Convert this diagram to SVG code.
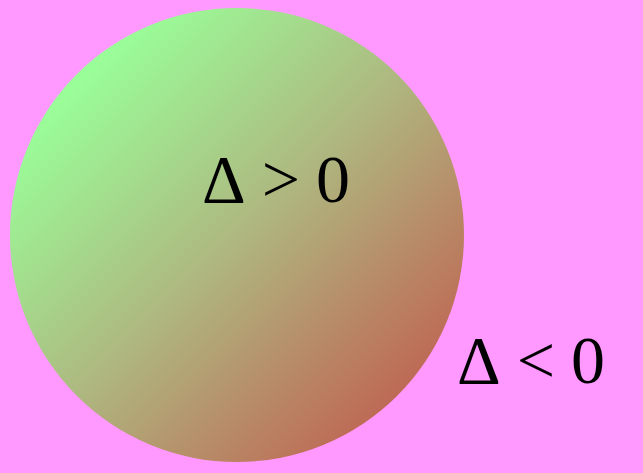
<svg xmlns="http://www.w3.org/2000/svg" width="643" height="473" viewBox="0 0 643 473">
<style>
.lbl{font-family:"Liberation Serif","Times New Roman",serif;font-size:68px;fill:#000}
</style>
<defs>
<linearGradient id="g" x1="0" y1="0" x2="1" y2="1">
<stop offset="0.15" stop-color="#99ff99"/>
<stop offset="0.5" stop-color="#aeb880"/>
<stop offset="0.9" stop-color="#c06050"/>
</linearGradient>
</defs>
<rect width="643" height="473" fill="#ff99ff"/>
<g id="inside">
<circle cx="237" cy="235" r="227" fill="url(#g)"/>
<text class="lbl" x="202" y="202">Δ<tspan dx="16">&gt;</tspan><tspan dx="16">0</tspan></text>
</g>
<g id="outside">
<text class="lbl" x="457" y="383">Δ<tspan dx="16">&lt;</tspan><tspan dx="16">0</tspan></text>
</g>
</svg>
